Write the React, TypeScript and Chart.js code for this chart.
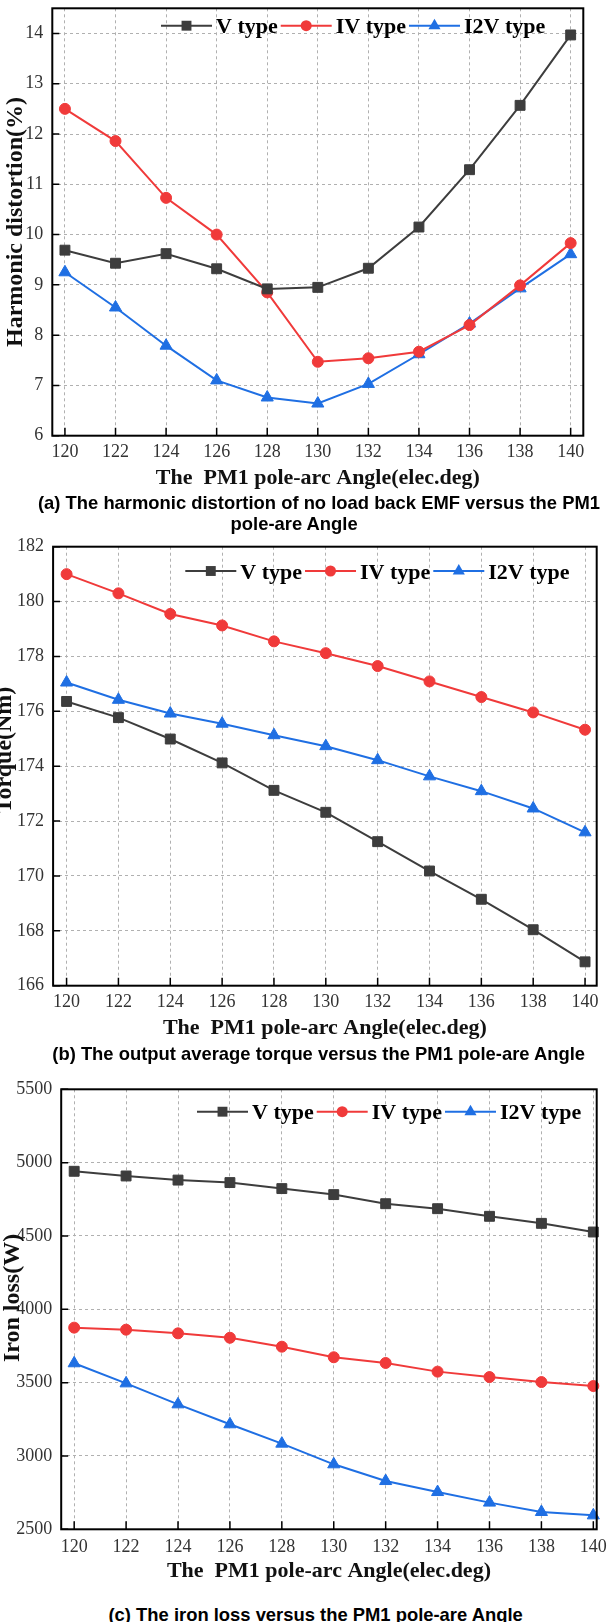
import React, { useEffect, useRef } from 'react';
import { Chart, registerables } from 'chart.js';

Chart.register(...registerables);

// ---------- data ----------
const angles = [120, 122, 124, 126, 128, 130, 132, 134, 136, 138, 140];
const seriesNames = ['V type', 'IV type', 'I2V type'];

const thdV = [9.69, 9.43, 9.62, 9.32, 8.92, 8.95, 9.33, 10.15, 11.29, 12.57, 13.97];
const thdIV = [12.5, 11.86, 10.73, 10.0, 8.85, 7.47, 7.54, 7.67, 8.2, 8.99, 9.83];
const thdI2V = [9.25, 8.55, 7.79, 7.1, 6.76, 6.64, 7.03, 7.62, 8.23, 8.93, 9.61];
const thdTicks = [6, 7, 8, 9, 10, 11, 12, 13, 14];

const torqueV = [176.36, 175.77, 174.99, 174.12, 173.12, 172.32, 171.25, 170.18, 169.15, 168.04, 166.87];
const torqueIV = [181.0, 180.3, 179.55, 179.13, 178.55, 178.12, 177.65, 177.09, 176.52, 175.96, 175.33];
const torqueI2V = [177.05, 176.42, 175.92, 175.55, 175.13, 174.73, 174.22, 173.63, 173.09, 172.46, 171.59];
const torqueTicks = [166, 168, 170, 172, 174, 176, 178, 180, 182];

const ironV = [4941, 4909, 4881, 4864, 4823, 4782, 4720, 4686, 4634, 4586, 4527];
const ironIV = [3875, 3861, 3836, 3806, 3745, 3673, 3634, 3575, 3538, 3504, 3477];
const ironI2V = [3632, 3495, 3352, 3216, 3084, 2943, 2829, 2754, 2682, 2618, 2595];
const ironTicks = [2500, 3000, 3500, 4000, 4500, 5000, 5500];

const xTitle = 'The  PM1 pole-arc Angle(elec.deg)';
const captionA1 = '(a) The harmonic distortion of no load back EMF versus the PM1';
const captionA2 = 'pole-are Angle';
const captionB = '(b) The output average torque versus the PM1 pole-are Angle';
const captionC = '(c) The iron loss versus the PM1 pole-are Angle';

// ---------- styles ----------
const W = 608;
const COLORS = ['#3d3d3d', '#f03a3a', '#1f6fe3'];
const STYLES = ['rect', 'circle', 'triangle'];
const RADII = [7, 5.5, 7];
const SERIF = '"Liberation Serif", "Times New Roman", serif';

type PanelSpec = {
  top: number;
  height: number;
  area: { left: number; top: number; right: number; bottom: number };
  xMin: number;
  xMax: number;
  yMin: number;
  yMax: number;
  yTicks: number[];
  series: number[][];
  yTitle: string;
  yTitleX: number;
  yTitleY: number;
  xTitleY: number;
  xLabelPad: number;
  legendX: number;
  legendY: number;
};

function drawMarker(ctx: CanvasRenderingContext2D, style: string, x: number, y: number, r: number, color: string) {
  ctx.save();
  ctx.fillStyle = color;
  ctx.beginPath();
  if (style === 'rect') {
    const s = Math.SQRT1_2 * r;
    ctx.rect(x - s, y - s, 2 * s, 2 * s);
  } else if (style === 'circle') {
    ctx.arc(x, y, r, 0, Math.PI * 2);
  } else {
    let rad = 0;
    const step = (Math.PI * 2) / 3;
    ctx.moveTo(x + Math.sin(rad) * r, y - Math.cos(rad) * r);
    rad += step;
    ctx.lineTo(x + Math.sin(rad) * r, y - Math.cos(rad) * r);
    rad += step;
    ctx.lineTo(x + Math.sin(rad) * r, y - Math.cos(rad) * r);
    ctx.closePath();
  }
  ctx.fill();
  ctx.restore();
}

function makeDecor(spec: PanelSpec) {
  return {
    id: 'decor',
    afterDraw(chart: any) {
      const ctx: CanvasRenderingContext2D = chart.ctx;
      const a = chart.chartArea;
      const xs = chart.scales.x;
      const ys = chart.scales.y;
      ctx.save();
      // inner tick marks
      ctx.strokeStyle = '#000';
      ctx.lineWidth = 1.5;
      ctx.beginPath();
      xs.ticks.forEach((t: any) => {
        const px = xs.getPixelForValue(t.value);
        ctx.moveTo(px, a.bottom);
        ctx.lineTo(px, a.bottom - 8);
      });
      ys.ticks.forEach((t: any) => {
        const py = ys.getPixelForValue(t.value);
        ctx.moveTo(a.left, py);
        ctx.lineTo(a.left + 7, py);
      });
      ctx.stroke();
      // frame
      ctx.lineWidth = 2;
      ctx.strokeRect(a.left, a.top, a.right - a.left, a.bottom - a.top);

      // x title
      ctx.fillStyle = '#111';
      ctx.font = `bold 22px ${SERIF}`;
      ctx.textAlign = 'center';
      ctx.textBaseline = 'middle';
      ctx.fillText(xTitle, (a.left + a.right) / 2, spec.xTitleY);

      // y title
      ctx.save();
      ctx.translate(spec.yTitleX, spec.yTitleY);
      ctx.rotate(-Math.PI / 2);
      ctx.font = `bold 24px ${SERIF}`;
      ctx.textAlign = 'center';
      ctx.textBaseline = 'alphabetic';
      ctx.fillText(spec.yTitle, 0, 0);
      ctx.restore();

      // legend
      let lx = spec.legendX;
      const ly = spec.legendY;
      ctx.font = `bold 22px ${SERIF}`;
      ctx.textAlign = 'left';
      ctx.textBaseline = 'alphabetic';
      chart.data.datasets.forEach((ds: any, i: number) => {
        ctx.strokeStyle = ds.borderColor;
        ctx.lineWidth = 2;
        ctx.beginPath();
        ctx.moveTo(lx, ly);
        ctx.lineTo(lx + 51, ly);
        ctx.stroke();
        drawMarker(ctx, STYLES[i], lx + 25.5, ly, RADII[i], ds.borderColor);
        ctx.fillStyle = '#000';
        const tx = lx + 55;
        ctx.fillText(ds.label, tx, ly + 7.5);
        lx = tx + ctx.measureText(ds.label).width + 3;
      });
      ctx.restore();
    },
  };
}

function buildConfig(spec: PanelSpec): any {
  const { area, height } = spec;
  const tickFont = { family: SERIF, size: 18 };
  return {
    type: 'line',
    data: {
      datasets: spec.series.map((vals, i) => ({
        label: seriesNames[i],
        data: angles.map((x, k) => ({ x, y: vals[k] })),
        borderColor: COLORS[i],
        backgroundColor: COLORS[i],
        pointBackgroundColor: COLORS[i],
        pointBorderColor: COLORS[i],
        pointStyle: STYLES[i],
        pointRadius: RADII[i],
        pointBorderWidth: 1,
        borderWidth: 2,
        tension: 0,
        clip: false,
      })),
    },
    options: {
      responsive: false,
      maintainAspectRatio: false,
      animation: false,
      devicePixelRatio: 1,
      layout: { padding: { left: 0, top: area.top, right: W - area.right, bottom: 0 } },
      plugins: { legend: { display: false }, tooltip: { enabled: false }, title: { display: false } },
      scales: {
        x: {
          type: 'linear',
          min: spec.xMin,
          max: spec.xMax,
          afterBuildTicks: (s: any) => {
            s.ticks = angles.map((v) => ({ value: v }));
          },
          afterFit: (s: any) => {
            s.height = height - area.bottom;
            s.paddingLeft = 0;
            s.paddingRight = 0;
          },
          grid: { color: '#b0b0b0', lineWidth: 1, drawTicks: false },
          border: { display: false, dash: [3, 3] },
          ticks: {
            autoSkip: false,
            maxRotation: 0,
            minRotation: 0,
            padding: spec.xLabelPad,
            font: tickFont,
            color: '#333',
            callback: (v: any) => String(v),
          },
        },
        y: {
          type: 'linear',
          min: spec.yMin,
          max: spec.yMax,
          afterBuildTicks: (s: any) => {
            s.ticks = spec.yTicks.map((v) => ({ value: v }));
          },
          afterFit: (s: any) => {
            s.width = area.left;
            s.paddingTop = 0;
            s.paddingBottom = 0;
          },
          grid: { color: '#b0b0b0', lineWidth: 1, drawTicks: false },
          border: { display: false, dash: [3, 3] },
          ticks: {
            autoSkip: false,
            padding: 9,
            font: tickFont,
            color: '#333',
            callback: (v: any) => String(v),
          },
        },
      },
    },
    plugins: [makeDecor(spec)],
  };
}

const panelA: PanelSpec = {
  top: 0,
  height: 495,
  area: { left: 52.3, top: 8.3, right: 583.3, bottom: 435.7 },
  xMin: 119.5,
  xMax: 140.5,
  yMin: 6,
  yMax: 14.5,
  yTicks: thdTicks,
  series: [thdV, thdIV, thdI2V],
  yTitle: 'Harmonic distortion(%)',
  yTitleX: 22,
  yTitleY: 222,
  xTitleY: 478,
  xLabelPad: 5.5,
  legendX: 161,
  legendY: 25.7,
};

const panelB: PanelSpec = {
  top: 530,
  height: 512,
  area: { left: 53.1, top: 16.7, right: 596.7, bottom: 455.7 },
  xMin: 119.48,
  xMax: 140.45,
  yMin: 166,
  yMax: 182,
  yTicks: torqueTicks,
  series: [torqueV, torqueIV, torqueI2V],
  yTitle: 'Torque(Nm)',
  yTitleX: 11,
  yTitleY: 220,
  xTitleY: 498,
  xLabelPad: 6.2,
  legendX: 185.3,
  legendY: 41,
};

const panelC: PanelSpec = {
  top: 1070,
  height: 520,
  area: { left: 61.2, top: 19.3, right: 596.7, bottom: 459.3 },
  xMin: 119.5,
  xMax: 140.13,
  yMin: 2500,
  yMax: 5500,
  yTicks: ironTicks,
  series: [ironV, ironIV, ironI2V],
  yTitle: 'Iron loss(W)',
  yTitleX: 18.5,
  yTitleY: 228,
  xTitleY: 501.7,
  xLabelPad: 7.2,
  legendX: 197,
  legendY: 41.7,
};

function Panel({ spec }: { spec: PanelSpec }) {
  const ref = useRef<HTMLCanvasElement | null>(null);
  useEffect(() => {
    if (!ref.current) return;
    const chart = new Chart(ref.current, buildConfig(spec));
    return () => chart.destroy();
  }, [spec]);
  return (
    <canvas
      ref={ref}
      width={W}
      height={spec.height}
      style={{ position: 'absolute', left: 0, top: spec.top, width: W, height: spec.height }}
    />
  );
}

function Caption({ text, left, cy }: { text: string; left: number; cy: number }) {
  return (
    <div
      style={{
        position: 'absolute',
        left,
        top: cy - 10.5,
        lineHeight: '21px',
        fontFamily: '"Liberation Sans", Arial, sans-serif',
        fontWeight: 'bold',
        fontSize: 18.4,
        color: '#000',
        whiteSpace: 'pre',
      }}
    >
      {text}
    </div>
  );
}

export default function App() {
  return (
    <div
      style={{
        position: 'absolute',
        left: 0,
        top: 0,
        width: W,
        height: 1622,
        background: '#fff',
        overflow: 'hidden',
      }}
    >
      <Panel spec={panelA} />
      <Caption text={captionA1} left={38} cy={502} />
      <Caption text={captionA2} left={230.6} cy={523.3} />
      <Panel spec={panelB} />
      <Caption text={captionB} left={52.3} cy={1053.3} />
      <Panel spec={panelC} />
      <Caption text={captionC} left={108.5} cy={1614} />
    </div>
  );
}
